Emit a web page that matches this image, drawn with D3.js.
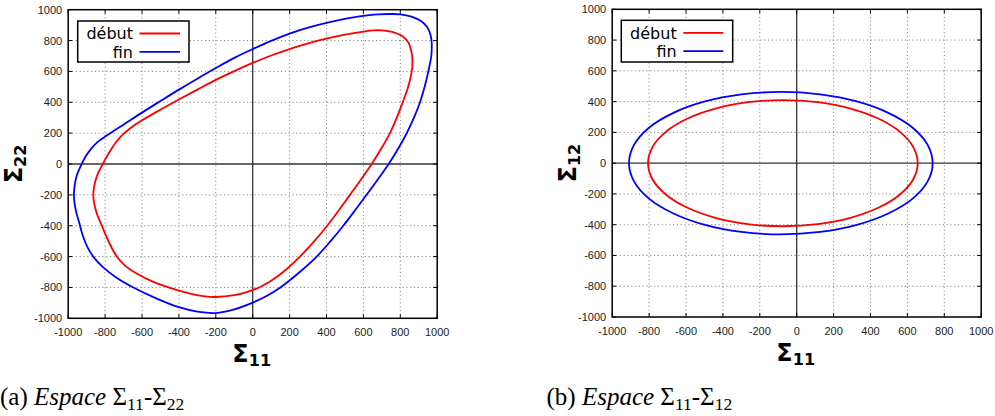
<!DOCTYPE html>
<html><head><meta charset="utf-8">
<script src="https://cdn.jsdelivr.net/npm/d3@7"></script>
<style>body{margin:0;background:#fff}svg{display:block}</style>
</head><body>
<svg id="c" width="995" height="416"></svg>
<script>
// ---- data ----
const xTicks = [-1000,-800,-600,-400,-200,0,200,400,600,800,1000];
const yTicks = [-1000,-800,-600,-400,-200,0,200,400,600,800,1000];
const seriesNames = ["début","fin"];
// Panel (a): Σ11-Σ22
const debutA = [[654,866],[700,866],[760,855],[810,830],[845,785],[860,730],[866,670],[862,600],[843,500],[813,400],[781,300],[744,200],[697,100],[645,0],[587,-100],[527,-200],[467,-300],[404,-400],[334,-500],[256,-600],[165,-700],[100,-757],[40,-797],[-20,-825],[-100,-850],[-200,-862],[-270,-856],[-340,-840],[-448,-803],[-539,-764],[-629,-710],[-690,-660],[-737,-599],[-778,-510],[-818,-400],[-845,-320],[-860,-250],[-864,-200],[-860,-150],[-845,-80],[-813,0],[-780,70],[-745,135],[-705,190],[-660,235],[-600,283],[-500,352],[-400,418],[-300,482],[-200,545],[-100,602],[0,655],[100,703],[200,745],[300,782],[400,812],[500,838],[600,858]];
const finA = [[744,972],[800,970],[860,955],[910,928],[945,888],[963,840],[970,790],[970,740],[968,700],[952,600],[932,500],[907,400],[874,300],[835,200],[789,100],[737,0],[678,-100],[617,-200],[555,-300],[491,-400],[422,-500],[347,-600],[255,-700],[150,-800],[75,-855],[0,-898],[-100,-942],[-200,-966],[-300,-957],[-400,-928],[-520,-872],[-647,-800],[-740,-735],[-810,-670],[-858,-610],[-895,-540],[-922,-460],[-938,-390],[-955,-320],[-966,-250],[-969,-200],[-966,-150],[-955,-80],[-927,0],[-905,50],[-875,100],[-840,143],[-800,178],[-750,217],[-700,255],[-600,333],[-500,408],[-400,482],[-300,553],[-200,622],[-100,688],[0,745],[100,798],[200,845],[300,884],[400,915],[500,940],[600,960],[680,970]];
// Panel (b): Σ11-Σ12
const debutB = [[656,0],[631,106],[558,205],[442,290],[291,355],[114,396],[-75,410],[-264,396],[-441,355],[-592,290],[-708,205],[-781,106],[-806,0],[-781,-106],[-708,-205],[-592,-290],[-441,-355],[-264,-396],[-75,-410],[114,-396],[291,-355],[442,-290],[558,-205],[631,-106]];
const finB = [[737,0],[709,120],[627,232],[496,327],[326,401],[127,447],[-86,463],[-299,447],[-498,401],[-668,327],[-799,232],[-881,120],[-909,0],[-881,-120],[-799,-232],[-668,-327],[-498,-401],[-299,-447],[-86,-463],[127,-447],[326,-401],[496,-327],[627,-232],[709,-120]];

const svg = d3.select("#c");
const colors = ["#ff0000","#0000ff"];
const tickFont = "'Liberation Sans', Arial, sans-serif";

function panel(o){
  const x = d3.scaleLinear().domain([-1000,1000]).range([o.left,o.right]);
  const y = d3.scaleLinear().domain([-1000,1000]).range([o.bottom,o.top]);
  const g = svg.append("g");
  const gx = xTicks.filter(t=>t!==-1000&&t!==1000&&t!==0);
  const gy = yTicks.filter(t=>t!==-1000&&t!==1000&&t!==0);
  g.selectAll(".gx").data(gx).enter().append("line")
    .attr("x1",d=>x(d)).attr("x2",d=>x(d)).attr("y1",o.top).attr("y2",o.bottom)
    .attr("stroke","#8a8a8a").attr("stroke-width",1).attr("stroke-dasharray","1.2,2.6");
  g.selectAll(".gy").data(gy).enter().append("line")
    .attr("y1",d=>y(d)).attr("y2",d=>y(d)).attr("x1",o.left).attr("x2",o.right)
    .attr("stroke","#8a8a8a").attr("stroke-width",1).attr("stroke-dasharray","1.2,2.6");
  g.append("line").attr("x1",x(0)).attr("x2",x(0)).attr("y1",o.top).attr("y2",o.bottom)
    .attr("stroke","#333").attr("stroke-width",1.3);
  g.append("line").attr("y1",y(0)).attr("y2",y(0)).attr("x1",o.left).attr("x2",o.right)
    .attr("stroke","#333").attr("stroke-width",1.3);
  const tl = 4;
  xTicks.forEach(t=>{
    g.append("line").attr("x1",x(t)).attr("x2",x(t)).attr("y1",o.bottom).attr("y2",o.bottom-tl).attr("stroke","#000");
    g.append("line").attr("x1",x(t)).attr("x2",x(t)).attr("y1",o.top).attr("y2",o.top+tl).attr("stroke","#000");
  });
  yTicks.forEach(t=>{
    g.append("line").attr("y1",y(t)).attr("y2",y(t)).attr("x1",o.left).attr("x2",o.left+tl).attr("stroke","#000");
    g.append("line").attr("y1",y(t)).attr("y2",y(t)).attr("x1",o.right).attr("x2",o.right-tl).attr("stroke","#000");
  });
  g.selectAll(".xl").data(xTicks).enter().append("text")
    .attr("x",d=>x(d)).attr("y",o.bottom+17.5).attr("text-anchor","middle")
    .attr("font-family",tickFont).attr("font-size",11).attr("fill","#222").text(d=>d);
  g.selectAll(".yl").data(yTicks).enter().append("text")
    .attr("x",o.left-6).attr("y",d=>y(d)).attr("dy","0.36em").attr("text-anchor","end")
    .attr("font-family",tickFont).attr("font-size",11).attr("fill","#222").text(d=>d);
  const line = d3.line().x(d=>x(d[0])).y(d=>y(d[1])).curve(d3.curveCatmullRomClosed.alpha(0.5));
  o.series.forEach((s,i)=>{
    g.append("path").attr("d",line(s)).attr("fill","none").attr("stroke",colors[i]).attr("stroke-width",1.8);
  });
  g.append("rect").attr("x",o.left).attr("y",o.top).attr("width",o.right-o.left).attr("height",o.bottom-o.top)
    .attr("fill","none").attr("stroke","#000").attr("stroke-width",1.5);
  const L = o.legend;
  g.append("rect").attr("x",L.x).attr("y",L.y).attr("width",L.w).attr("height",L.h)
    .attr("fill","#fff").attr("stroke","#000").attr("stroke-width",1.5);
  seriesNames.forEach((n,i)=>{
    const yy = L.y + 12.5 + i*18.3;
    g.append("text").attr("x",L.tx).attr("y",yy).attr("dy","0.36em").attr("text-anchor","end")
      .attr("font-family","'DejaVu Sans', sans-serif").attr("font-size",16).attr("fill","#000").text(n);
    g.append("line").attr("x1",L.lx1).attr("x2",L.lx2).attr("y1",yy).attr("y2",yy)
      .attr("stroke",colors[i]).attr("stroke-width",1.8);
  });
  const xt = g.append("text").attr("x",(o.left+o.right)/2 - 1).attr("y",o.bottom+44).attr("text-anchor","middle")
    .attr("font-family","'DejaVu Sans', sans-serif").attr("font-weight","bold").attr("font-size",24);
  xt.append("tspan").text("Σ");
  xt.append("tspan").attr("font-size",16).attr("dy",4).text("11");
  const yt = g.append("text").attr("transform",`translate(${o.ylx},${(o.top+o.bottom)/2}) rotate(-90)`)
    .attr("text-anchor","middle")
    .attr("font-family","'DejaVu Sans', sans-serif").attr("font-weight","bold").attr("font-size",24);
  yt.append("tspan").text("Σ");
  yt.append("tspan").attr("font-size",16).attr("dy",4).text(o.ysub);
  const cap = svg.append("text").attr("x",o.capx).attr("y",405)
    .attr("font-family","'Liberation Serif', 'DejaVu Serif', serif").attr("font-size",25).attr("fill","#000");
  cap.append("tspan").text(o.capLetter + " ");
  cap.append("tspan").attr("font-style","italic").text("Espace");
  cap.append("tspan").text(" Σ");
  cap.append("tspan").attr("font-size",17.5).attr("dy",5).text("11");
  cap.append("tspan").attr("dy",-5).text("-Σ");
  cap.append("tspan").attr("font-size",17.5).attr("dy",5).text(o.ysub);
}

panel({left:68.2,right:437.2,top:9.7,bottom:318.3,series:[debutA,finA],ysub:"22",ylx:22,capx:0,capLetter:"(a)",
  legend:{x:77.7,y:21,w:111.3,h:41,tx:133,lx1:139.5,lx2:180}});
panel({left:612.2,right:981.2,top:9.3,bottom:317,series:[debutB,finB],ysub:"12",ylx:576,capx:546.5,capLetter:"(b)",
  legend:{x:621.3,y:20.3,w:111.4,h:41.7,tx:676.7,lx1:683.3,lx2:723.3}});
</script>
</body></html>
